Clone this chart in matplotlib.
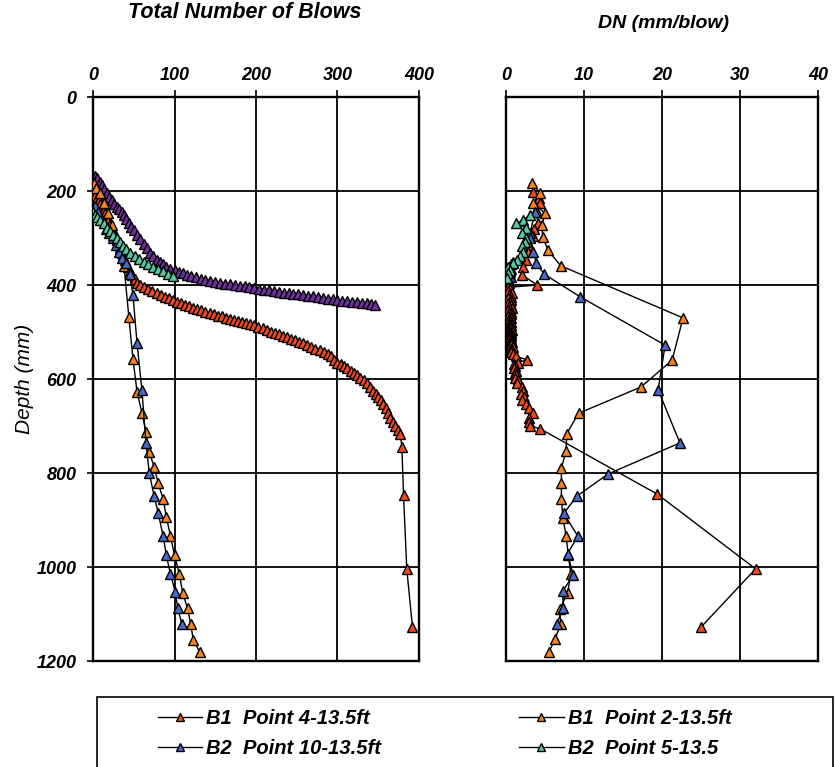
import matplotlib
matplotlib.use("Agg")
import matplotlib.pyplot as plt
from matplotlib.patches import Rectangle

plt.rcParams["font.family"] = ["Liberation Sans", "DejaVu Sans"]
plt.rcParams["font.weight"] = "bold"
plt.rcParams["font.style"] = "italic"

# ---- left panel: total blows vs depth (mm) ----
red_blows = [1, 3, 5, 7, 9, 11, 13, 15, 17, 19, 21, 23, 25, 27, 29, 31, 33, 35, 37, 39, 41, 43, 45, 48, 51, 54,
             58, 63, 68, 73, 78, 83, 88, 93, 98, 103, 108, 113, 118, 123, 128, 133, 138, 143, 148, 153, 158, 163,
             168, 173, 178, 183, 188, 193, 198, 203, 208, 213, 218, 223, 228, 233, 238, 243, 248, 253, 258, 263,
             268, 273, 278, 283, 288, 292, 296, 300, 304, 308, 312, 316, 320, 324, 328, 332, 336, 340, 344, 347,
             350, 353, 356, 359, 362, 365, 368, 371, 374, 377, 379, 381, 385, 392]
red_depth = [202, 208, 214, 220, 227, 233, 240, 247, 254, 262, 270, 278, 287, 296, 305, 314, 322, 331, 339, 347, 355,
             362, 370, 378, 387, 396,
             400, 405, 409, 413, 417, 421, 425, 428, 432, 436, 439, 442, 445, 448, 451, 454, 457, 460, 462, 465, 467,
             470, 472, 474, 476, 478, 481, 483, 486, 489, 492, 496, 499, 502, 505, 508, 511, 514, 517, 521, 524, 528,
             532, 536, 539, 543, 547, 552, 559, 565, 569, 573, 577, 582, 587, 592, 597, 603, 609, 617, 626, 632,
             639, 645, 653, 662, 673, 682, 691, 700, 708, 716, 745, 847, 1004, 1128]

orange_blows = [1, 4, 9, 14, 18, 23, 28, 33, 38, 44, 49, 54, 60, 65, 69, 75, 80, 86, 90, 95, 100, 106, 110, 116,
                120, 123, 131]
orange_depth = [183, 193, 205, 226, 247, 272, 298, 326, 359, 468, 557, 627, 672, 713, 755, 787, 822, 855, 893, 934,
                975, 1015, 1055, 1088, 1122, 1155, 1181]

blue_blows = [2, 6, 11, 16, 20, 24, 28, 32, 36, 40, 45, 49, 54, 60, 65, 69, 75, 80, 86, 90, 95, 101, 104, 109]
blue_depth = [232, 244, 262, 280, 290, 300, 315, 330, 342, 354, 377, 421, 523, 623, 736, 800, 849, 885, 934, 975,
              1015, 1053, 1088, 1121]

teal_blows = [0, 2, 5, 9, 13, 17, 21, 25, 29, 33, 37, 41, 46, 51, 56, 62, 68, 74, 80, 86, 92, 98]
teal_depth = [245, 251, 256, 262, 269, 278, 286, 293, 300, 308, 316, 324, 331, 338, 345, 351, 356, 361, 366, 371,
              376, 381]

purple_blows = [3, 5, 8, 11, 14, 17, 20, 23, 26, 29, 32, 35, 38, 41, 44, 47, 50, 54, 58, 62, 66, 70, 74, 78, 82,
                86, 90, 95, 100, 105, 110, 115, 120, 126, 132, 138, 144, 150, 156, 162, 168, 174, 180, 186, 192,
                198, 204, 210, 216, 222, 228, 234, 240, 246, 252, 258, 264, 270, 276, 282, 288, 294, 300, 306,
                312, 318, 324, 330, 336, 341, 346]
purple_depth = [168, 172, 180, 188, 196, 205, 213, 220, 227, 233, 239, 245, 252, 260, 268, 276, 284, 293, 303,
                313, 322, 331, 339, 346, 351, 356, 361, 365, 369, 372, 375, 378, 381, 384, 387, 389, 391, 393,
                395, 397, 398, 400, 402, 403, 405, 407, 408, 410, 411, 413, 414, 416, 417, 419, 420, 421, 423,
                424, 426, 427, 429, 430, 431, 433, 434, 436, 437, 438, 439, 441, 442]

# ---- right panel: DN (mm/blow) vs depth (mm) ----
red_dn = [3.5, 4.2, 4.4, 3.8, 4.1, 3.6, 3.4, 3.0, 2.8, 2.5, 2.2, 2.0, 4.0,
          0.3, 0.5, 0.2, 0.8, 0.4, 0.6, 0.3, 0.7, 0.5, 0.3, 0.6, 0.4, 0.8, 0.5, 0.3, 0.6, 0.4, 0.7, 0.5, 0.3,
          0.6, 0.4, 0.5, 0.3, 0.6, 0.4, 0.5, 0.7, 0.5, 0.6, 0.8, 0.6, 0.5, 0.7, 0.6, 0.5, 0.7, 0.6, 0.8, 0.6,
          0.7, 0.9, 0.7, 0.8, 0.6, 0.9, 1.3, 2.7, 1.5, 1.0, 1.1, 1.0, 1.3, 1.2, 1.3, 1.2, 1.5, 1.4, 2.0, 2.2,
          1.9, 2.3, 2.1, 2.6, 2.9, 3.5, 3.0, 3.0, 3.1, 4.4, 19.4, 32.0, 25.0]
red_dn_depth = [202, 214, 226, 240, 268, 280, 296, 314, 330, 347, 362, 378, 400,
                405, 409, 413, 417, 421, 425, 428, 432, 436, 439, 442, 445, 448, 451, 454, 457, 460, 462, 465,
                467, 470, 472, 474, 476, 478, 481, 483, 486, 489, 492, 496, 499, 502, 505, 508, 511, 514, 517,
                521, 524, 528, 532, 536, 539, 543, 547, 552, 559, 565, 569, 573, 577, 582, 587, 592, 597, 603,
                609, 617, 626, 632, 639, 645, 653, 662, 673, 682, 691, 700, 706, 845, 1004, 1128]

orange_dn = [3.3, 4.4, 3.5, 5.0, 4.6, 4.7, 5.4, 7.0, 22.7, 21.3, 17.3, 9.3, 7.8, 7.7, 7.1, 7.1, 7.1, 7.3, 7.7,
             8.0, 8.3, 7.9, 6.9, 7.0, 6.3, 5.5]
orange_dn_depth = [183, 205, 226, 247, 272, 298, 326, 359, 470, 560, 617, 673, 716, 753, 790, 822, 855, 896, 934,
                   975, 1015, 1055, 1090, 1122, 1153, 1181]

blue_dn = [3.7, 3.1, 3.1, 3.5, 3.9, 4.9, 9.5, 20.4, 19.5, 22.3, 13.1, 9.1, 7.4, 9.2, 7.9, 8.6, 7.3, 7.3, 6.5]
blue_dn_depth = [244, 290, 300, 330, 354, 377, 425, 528, 623, 736, 802, 849, 886, 934, 972, 1017, 1051, 1088, 1121]

teal_dn = [3.1, 2.2, 1.3, 2.5, 2.0, 2.6, 2.4, 2.1, 2.2, 1.8, 1.4, 0.9, 0.3, 0.5, 0.2, 0.1]
teal_dn_depth = [251, 262, 269, 278, 290, 299, 308, 318, 329, 338, 347, 354, 361, 368, 375, 386]

purple_dn = [0.9, 0.6, 0.4, 0.7, 0.3, 0.5, 0.2, 0.4, 0.3, 0.6, 0.2, 0.3, 0.1, 0.4, 0.2, 0.3]
purple_dn_depth = [351, 356, 361, 365, 369, 372, 375, 378, 381, 384, 387, 389, 391, 395, 400, 405]

labels = ["B1  Point 4-13.5ft", "B1  Point 2-13.5ft", "B2  Point 10-13.5ft", "B2  Point 5-13.5"]
colors = ["#EE4A1E", "#F5841F", "#4A68C6", "#52C9A2"]
purple = "#7030A0"


def style_axis(ax, xmax, xstep, show_y):
    ax.set_xlim(0, xmax)
    ax.set_ylim(1200, 0)
    ax.set_xticks(range(0, xmax + 1, xstep))
    ax.set_yticks(range(0, 1201, 200))
    ax.xaxis.tick_top()
    ax.grid(True, color="black", linewidth=1.3)
    ax.set_axisbelow(True)
    for sp in ax.spines.values():
        sp.set_linewidth(1.7)
    ax.tick_params(axis="x", top=True, bottom=False, length=5, width=1.2, labelsize=13, pad=4)
    if show_y:
        ax.tick_params(axis="y", left=True, length=4, width=1.2, labelsize=13, pad=8)
    else:
        ax.tick_params(axis="y", left=False, labelleft=False)


mk = dict(marker="^", markersize=7.5, markeredgecolor="black", markeredgewidth=1.0,
          color="black", linewidth=1.0)

fig = plt.figure(figsize=(8.35, 7.67), dpi=100)
ax1 = fig.add_axes([93 / 835, 1 - 661 / 767, 326 / 835, 564 / 767])
ax2 = fig.add_axes([506 / 835, 1 - 661 / 767, 312 / 835, 564 / 767])

left_series = [(red_blows, red_depth), (orange_blows, orange_depth), (blue_blows, blue_depth),
               (teal_blows, teal_depth)]
right_series = [(red_dn, red_dn_depth), (orange_dn, orange_dn_depth), (blue_dn, blue_dn_depth),
                (teal_dn, teal_dn_depth)]

ax1.plot(purple_blows, purple_depth, markerfacecolor=purple, zorder=2, **mk)
ax2.plot(purple_dn, purple_dn_depth, markerfacecolor=purple, zorder=2, **mk)
handles = []
for (x, y), (dn, d), c, lab in zip(left_series, right_series, colors, labels):
    h, = ax1.plot(x, y, markerfacecolor=c, label=lab, zorder=3, **mk)
    ax2.plot(dn, d, markerfacecolor=c, zorder=3, **mk)
    handles.append(h)

style_axis(ax1, 400, 100, True)
style_axis(ax2, 40, 10, False)
ax1.set_ylabel("Depth (mm)", fontsize=15)
ax1.yaxis.set_label_coords(-0.18, 0.5)

fig.text(245 / 835, 1 - 13 / 767, "Total Number of Blows", ha="center", va="center", fontsize=15.5)
fig.text(664 / 835, 1 - 23 / 767, "DN (mm/blow)", ha="center", va="center", fontsize=14)

# legend: row-wise order (matplotlib fills columns first)
order = [handles[0], handles[2], handles[1], handles[3]]
leg = fig.legend(order, [h.get_label() for h in order], ncol=2,
                 loc="upper left", bbox_to_anchor=(158 / 835, 1 - 709 / 767),
                 frameon=False, fontsize=14.5, handlelength=2.2, handletextpad=0.2,
                 columnspacing=6.85, borderpad=0.0, borderaxespad=0.0, labelspacing=0.57,
                 markerscale=0.75)
fig.patches.append(Rectangle((97 / 835, -0.01), 736 / 835, (767 - 697) / 767 + 0.01,
                             transform=fig.transFigure, fill=False, edgecolor="black",
                             linewidth=1.2, clip_on=False))

fig.savefig("out.png", dpi=100)
